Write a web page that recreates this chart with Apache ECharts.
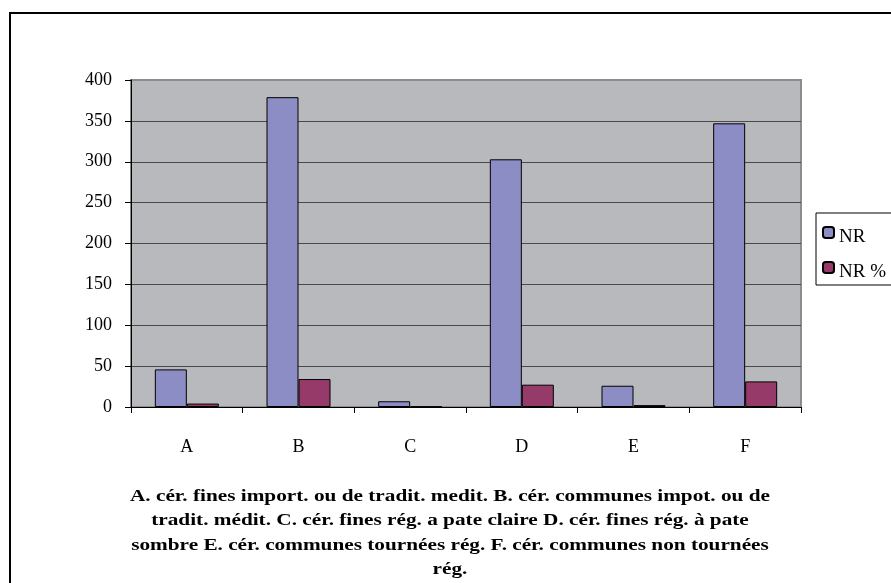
<!DOCTYPE html>
<html>
<head>
<meta charset="utf-8">
<script src="https://cdn.jsdelivr.net/npm/echarts@6/dist/echarts.min.js"></script>
<style>html,body{margin:0;padding:0;background:#fff;}#c{width:891px;height:583px;}</style>
</head>
<body>
<div id="c"></div>
<script>
const categories = ['A', 'B', 'C', 'D', 'E', 'F'];
const nrValues = [46, 379, 7, 303, 26, 347];
const nrPctValues = [4.2, 34.2, 0.6, 27.3, 2.3, 31.3];
const seriesNames = ['NR', 'NR %'];
const captionLines = [
  'A. cér. fines import. ou de tradit. medit. B. cér. communes impot. ou de',
  'tradit. médit. C. cér. fines rég. a pate claire D. cér. fines rég. à pate',
  'sombre E. cér. communes tournées rég. F. cér. communes non tournées',
  'rég.'
];

const serif = '"Liberation Serif", "DejaVu Serif", serif';
const chart = echarts.init(document.getElementById('c'), null, {renderer: 'canvas'});
chart.setOption({
  animation: false,
  backgroundColor: '#ffffff',
  grid: {
    left: 131, top: 80, right: 90, bottom: 176,
    show: true, backgroundColor: '#b8b9bc', borderColor: '#8c8c8c', borderWidth: 2
  },
  legend: {
    orient: 'vertical',
    left: 816, top: 213,
    padding: [13, 40, 3, 6],
    itemGap: 14,
    itemWidth: 11, itemHeight: 11,
    borderColor: '#000', borderWidth: 1,
    backgroundColor: '#fff',
    formatter: '{t|{name}}',
    textStyle: {
      fontFamily: serif, fontSize: 19, color: '#000',
      rich: {t: {fontFamily: serif, fontSize: 19, color: '#000', padding: [10, 0, 0, 0]}}
    },
    data: seriesNames
  },
  xAxis: {
    type: 'category',
    data: categories,
    axisLine: {lineStyle: {color: '#000', width: 1}},
    axisTick: {show: true, length: 6, lineStyle: {color: '#000'}},
    axisLabel: {fontFamily: serif, fontSize: 18, color: '#000', margin: 31},
    splitLine: {show: false}
  },
  yAxis: {
    type: 'value',
    min: 0, max: 400, interval: 50,
    axisLine: {show: true, lineStyle: {color: '#000', width: 1}},
    axisTick: {show: true, length: 6, lineStyle: {color: '#000'}},
    axisLabel: {fontFamily: serif, fontSize: 18, color: '#000', margin: 19},
    splitLine: {show: true, lineStyle: {color: ['#4a4a4a','#4a4a4a','#4a4a4a','#4a4a4a','#4a4a4a','#4a4a4a','#4a4a4a','#4a4a4a','#8c8c8c'], width: 1}}
  },
  series: [
    {
      name: seriesNames[0], type: 'bar', data: nrValues,
      barWidth: 32, barGap: '0%',
      itemStyle: {color: '#8b8dc4', borderColor: '#000', borderWidth: 1}
    },
    {
      name: seriesNames[1], type: 'bar', data: nrPctValues,
      barWidth: 32, barGap: '0%',
      itemStyle: {color: '#963a6a', borderColor: '#000', borderWidth: 1}
    }
  ],
  graphic: [
    {
      type: 'rect', silent: true, z: 100,
      shape: {x: 10, y: 13, width: 900, height: 600},
      style: {fill: null, stroke: '#000', lineWidth: 2}
    },
    {
      type: 'text', z: 100,
      x: 450, y: 484, scaleX: 1.25,
      style: {
        text: captionLines.join('\n'),
        fontFamily: serif, fontSize: 17, fontWeight: 'bold',
        fill: '#000', align: 'center', verticalAlign: 'top', lineHeight: 24.5
      }
    }
  ]
});
</script>
</body>
</html>
